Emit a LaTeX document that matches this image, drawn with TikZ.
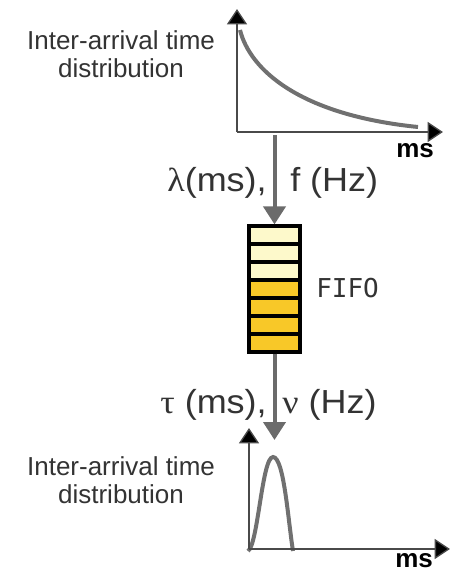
\documentclass[tikz,border=0pt]{standalone}
\usepackage{fontspec}
\setmainfont{Liberation Sans}
\newfontfamily\bigfont[FakeStretch=1.08]{Liberation Sans}
\newfontfamily\greekfont[FakeStretch=1.08]{Liberation Serif}
\newfontfamily\monofont{DejaVu Sans Mono}
\usetikzlibrary{arrows.meta}
\definecolor{txt}{HTML}{333333}
\definecolor{conngray}{HTML}{6B6B6B}
\definecolor{curvegray}{HTML}{707070}
\definecolor{axisgray}{HTML}{4A4A4A}
\definecolor{lightcell}{HTML}{FDF9CB}
\definecolor{darkcell}{HTML}{F8C828}
\tikzset{
  conn/.style={draw=conngray, line width=3pt, -{Triangle[width=16.5pt,length=13.5pt]}},
  axis/.style={draw=axisgray, line width=1pt, -{Triangle[width=15pt,length=11.5pt,fill=black]}},
  distcurve/.style={draw=curvegray, line width=3pt},
  smalllabel/.style={font=\fontsize{19.5}{21}\selectfont, text=txt, align=center, inner sep=0pt},
  biglabel/.style={font=\bigfont\fontsize{25}{27}\selectfont, text=txt, inner sep=0pt},
  unitlabel/.style={font=\bfseries\fontsize{19.5}{21}\selectfont, text=black, inner sep=0pt},
  fifobox/.style={draw=black, line width=2.4pt, minimum width=51*0.75pt, minimum height=126*0.75pt, inner sep=0pt},
}
\begin{document}
\begin{tikzpicture}[x=0.75pt,y=-0.75pt]
\useasboundingbox (0,0) rectangle (450,571);
% top distribution
\coordinate (o1) at (237,132);
\coordinate (y1) at (237,9);
\coordinate (x1) at (443,132);
\draw[distcurve] (240,30) .. controls (250,70) and (300,115) .. (418,127);
\draw[axis] (o1) -- (y1);
\draw[axis] (o1) -- (x1);
\node[smalllabel] (lab1) at (121,54) {Inter-arrival time\\distribution};
\node[unitlabel, anchor=base west] (ms1) at (396,157) {ms};
% FIFO
\node[fifobox] (fifo) at (274.5,289) {};
\foreach \i in {0,1,2} {
  \fill[lightcell] (249,226+18*\i) rectangle (300,244+18*\i);
}
\foreach \i in {3,4,5,6} {
  \fill[darkcell] (249,226+18*\i) rectangle (300,244+18*\i);
}
\foreach \i in {1,...,6} {
  \draw[black, line width=2.3pt] (249,226+18*\i) -- (300,226+18*\i);
}
\node[fifobox] at (fifo.center) {};
\node[font=\monofont\fontsize{19.5}{21}\selectfont, text=txt, anchor=base west, inner sep=0pt] (fifolab) at (316,297) {FIFO};
% connectors
\coordinate (a1) at (274.5,135);
\coordinate (a2) at (274.5,440);
\draw[conn] (a1) -- (fifo.north);
\draw[conn] (fifo.south) -- (a2);
\node[biglabel, anchor=base east] (lam) at (267,191) {{\greekfont λ}(ms),};
\node[biglabel, anchor=base west] (freq) at (290,191) {f (Hz)};
\node[biglabel, anchor=base east] (tau) at (267,413) {{\greekfont τ} (ms),};
\node[biglabel, anchor=base west] (nu) at (282,413) {{\greekfont ν} (Hz)};
% bottom distribution
\coordinate (o2) at (249,549);
\coordinate (y2) at (249,428);
\coordinate (x2) at (450,549);
\draw[distcurve] (248,551) .. controls (258,545) and (262,457) .. (273,457) .. controls (284,457) and (288,520) .. (293,551);
\draw[axis] (o2) -- (y2);
\draw[axis] (o2) -- (x2);
\node[smalllabel] (lab2) at (121,480) {Inter-arrival time\\distribution};
\node[unitlabel, anchor=base west] (ms2) at (395,567) {ms};
\end{tikzpicture}
\end{document}
